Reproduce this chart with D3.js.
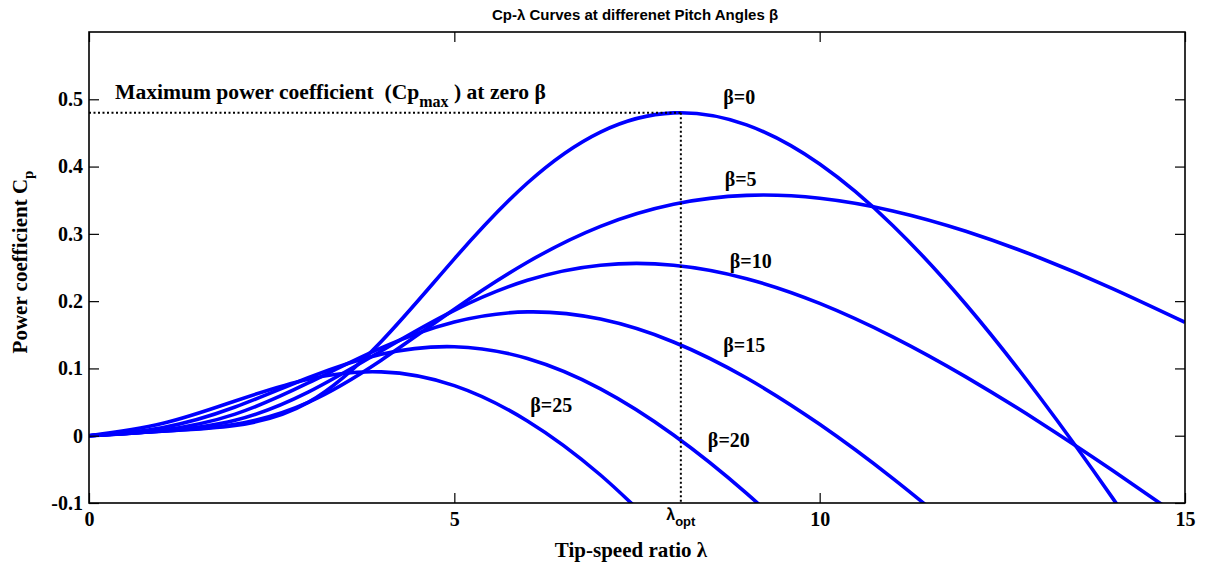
<!DOCTYPE html>
<html>
<head>
<meta charset="utf-8">
<script src="https://cdn.jsdelivr.net/npm/d3@7"></script>
<style>
  html, body { margin: 0; padding: 0; background: #fff; }
  svg { display: block; }
  text { white-space: pre; }
</style>
</head>
<body>
<svg id="chart" width="1206" height="565"></svg>
<script>
// ---- data ----
const lambda = [0,1,2,3,4,5,6,7,8,9,10,11,12,13,14,15];
const cpBeta0  = [0,0.0068,0.0151,0.0495,0.1401,0.2629,0.3756,0.4513,0.4798,0.4619,0.4037,0.3125,0.1954,0.0590,-0.0913,-0.2511];
const cpBeta5  = [0,0.0068,0.0170,0.0497,0.1123,0.1880,0.2578,0.3112,0.3440,0.3572,0.3529,0.3341,0.3039,0.2648,0.2191,0.1686];
const cpBeta10 = [0,0.0070,0.0229,0.0648,0.1260,0.1864,0.2310,0.2534,0.2534,0.2334,0.1967,0.1470,0.0875,0.0208,-0.0510,-0.1259];
const cpBeta15 = [0,0.0083,0.0321,0.0784,0.1304,0.1689,0.1840,0.1733,0.1393,0.0857,0.0169,-0.0634,-0.1518];
const cpBeta20 = [0,0.0119,0.0427,0.0862,0.1211,0.1323,0.1147,0.0696,0.0011,-0.0857,-0.1861];
const cpBeta25 = [0,0.0180,0.0516,0.0840,0.0949,0.0745,0.0220,-0.0584,-0.1611];
const betaNames = ["β=0","β=5","β=10","β=15","β=20","β=25"];
const betaSeries = [cpBeta0, cpBeta5, cpBeta10, cpBeta15, cpBeta20, cpBeta25];
const betaLabelLambda = [8.68, 8.70, 8.77, 8.68, 8.47, 6.04];
const betaLabelCp     = [0.493, 0.371, 0.249, 0.124, -0.017, 0.035];
const xTicks = [0,5,10,15];
const xTickLabels = ["0","5","10","15"];
const yTicks = [-0.1,0,0.1,0.2,0.3,0.4,0.5];
const yTickLabels = ["-0.1","0","0.1","0.2","0.3","0.4","0.5"];
const lambdaOpt = 8.1;
const cpMax = 0.48;

// ---- layout ----
const svg = d3.select("#chart");
const L = 89, R = 1185, T = 32, B = 503;
const x = d3.scaleLinear().domain([0,15]).range([L,R]);
const y = d3.scaleLinear().domain([-0.1,0.6]).range([B,T]);
const serif = "'Liberation Serif','Times New Roman',serif";
const sans = "'Liberation Sans',Arial,sans-serif";

svg.append("defs").append("clipPath").attr("id","plotclip")
  .append("rect").attr("x",L).attr("y",T).attr("width",R-L).attr("height",B-T);

// curves
const line = d3.line()
  .x((d,i)=>x(lambda[i]))
  .y(d=>y(d))
  .curve(d3.curveNatural);
const plot = svg.append("g").attr("clip-path","url(#plotclip)");
betaSeries.forEach(s=>{
  plot.append("path").attr("d", line(s))
    .attr("fill","none").attr("stroke","#0000ff")
    .attr("stroke-width",3.6).attr("stroke-linejoin","round");
});

// dotted guide lines
svg.append("line").attr("x1",x(0)).attr("x2",x(lambdaOpt))
  .attr("y1",y(cpMax)).attr("y2",y(cpMax))
  .attr("stroke","#000").attr("stroke-width",2).attr("stroke-dasharray","2,2.5");
svg.append("line").attr("x1",x(lambdaOpt)).attr("x2",x(lambdaOpt))
  .attr("y1",y(cpMax)).attr("y2",y(-0.1))
  .attr("stroke","#000").attr("stroke-width",2).attr("stroke-dasharray","2,2.5");

// axes
function styleAxis(g){
  g.select(".domain").remove();
  g.selectAll(".tick line").attr("stroke","#000").attr("stroke-width",1.2);
  g.selectAll(".tick text").attr("font-family",serif).attr("font-weight","bold")
    .attr("font-size",20).attr("fill","#000");
}
svg.append("g").attr("transform",`translate(0,${B})`)
  .call(d3.axisBottom(x).tickValues(xTicks).tickFormat((d,i)=>xTickLabels[i]).tickSize(-10).tickPadding(9))
  .call(styleAxis);
svg.append("g").attr("transform",`translate(0,${T})`)
  .call(d3.axisTop(x).tickValues(xTicks).tickFormat("").tickSize(-10))
  .call(styleAxis);
svg.append("g").attr("transform",`translate(${L},0)`)
  .call(d3.axisLeft(y).tickValues(yTicks).tickFormat((d,i)=>yTickLabels[i]).tickSize(-10).tickPadding(6))
  .call(styleAxis);
svg.append("g").attr("transform",`translate(${R},0)`)
  .call(d3.axisRight(y).tickValues(yTicks).tickFormat("").tickSize(-10))
  .call(styleAxis);

// frame
svg.append("rect").attr("x",L).attr("y",T).attr("width",R-L).attr("height",B-T)
  .attr("fill","none").attr("stroke","#000").attr("stroke-width",1.6);

// beta labels
betaNames.forEach((n,i)=>{
  svg.append("text").attr("x",x(betaLabelLambda[i])).attr("y",y(betaLabelCp[i]))
    .attr("font-family",serif).attr("font-weight","bold").attr("font-size",20)
    .attr("fill","#000").text(n);
});

// annotation
const ann = svg.append("text").attr("x",115).attr("y",99)
  .attr("font-family",serif).attr("font-weight","bold").attr("font-size",21.6).attr("fill","#000");
ann.append("tspan").text("Maximum power coefficient  (Cp");
ann.append("tspan").attr("font-size",16).attr("dy",8).text("max");
ann.append("tspan").attr("dy",-8).text(" ) at zero β");

// lambda_opt label
const lo = svg.append("text").attr("x",x(lambdaOpt)).attr("y",520)
  .attr("text-anchor","middle").attr("font-family",sans).attr("font-weight","bold")
  .attr("font-size",16).attr("fill","#000");
lo.append("tspan").text("λ");
lo.append("tspan").attr("font-size",13).attr("dy",6).text("opt");

// axis titles
svg.append("text").attr("x",(L+R)/2 - 6).attr("y",557).attr("text-anchor","middle")
  .attr("font-family",serif).attr("font-weight","bold").attr("font-size",21)
  .attr("fill","#000").text("Tip-speed ratio λ");
const yl = svg.append("text").attr("transform",`translate(27,${262}) rotate(-90)`)
  .attr("text-anchor","middle").attr("font-family",serif).attr("font-weight","bold")
  .attr("font-size",21).attr("fill","#000");
yl.append("tspan").text("Power coefficient C");
yl.append("tspan").attr("font-size",15).attr("dy",6).text("p");

// title
svg.append("text").attr("x",635).attr("y",20).attr("text-anchor","middle")
  .attr("font-family",sans).attr("font-weight","bold").attr("font-size",15)
  .attr("fill","#000").text("Cp-λ Curves at differenet Pitch Angles β");
</script>
</body>
</html>
